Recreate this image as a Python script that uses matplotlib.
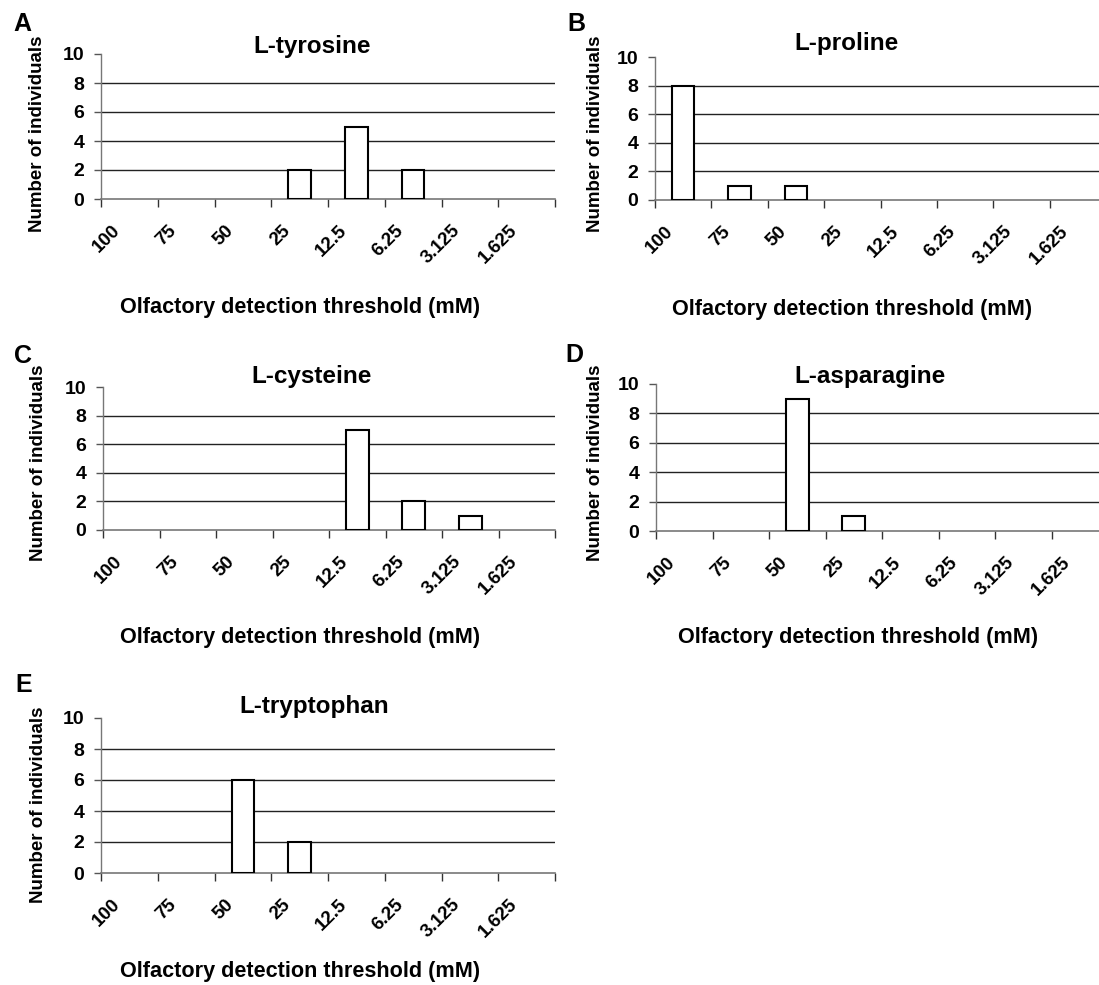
import matplotlib
matplotlib.use("Agg")
import matplotlib.pyplot as plt
import numpy as np
from matplotlib.transforms import offset_copy

plt.rcParams["font.family"] = ["Liberation Sans", "DejaVu Sans"]
plt.rcParams["font.weight"] = "bold"

# categories (olfactory detection threshold, mM)
concentrations = ["100", "75", "50", "25", "12.5", "6.25", "3.125", "1.625"]

# number of individuals per threshold
tyrosine = [0, 0, 0, 2, 5, 2, 0, 0]
proline = [8, 1, 1, 0, 0, 0, 0, 0]
cysteine = [0, 0, 0, 0, 7, 2, 1, 0]
asparagine = [0, 0, 9, 1, 0, 0, 0, 0]
tryptophan = [0, 0, 6, 2, 0, 0, 0, 0]

panel_letters = ["A", "B", "C", "D", "E"]
panel_titles = ["L-tyrosine", "L-proline", "L-cysteine", "L-asparagine", "L-tryptophan"]
panel_counts = [tyrosine, proline, cysteine, asparagine, tryptophan]
yticks = [0, 2, 4, 6, 8, 10]

W, H = 1099, 985

# pixel layout: (left, right, top, bottom) of the plot box
boxes = [(101, 555, 54, 199), (655, 1106, 57, 200),
         (103, 555, 387, 530), (656, 1108, 384, 531),
         (101, 555, 718, 873)]
title_pos = [(312, 53), (846, 50), (312, 383), (870, 383), (314, 713)]
xlabel_pos = [(300, 308), (852, 309), (300, 637), (858, 637), (300, 971)]
ylabel_pos = [(38, 134), (595, 134), (39, 463), (595, 463), (39, 805)]
letter_pos = [(22, 24), (576, 24), (23, 356), (574, 355), (24, 685)]


def fx(x):
    return x / W


def fy(y):
    return 1 - y / H


fig = plt.figure(figsize=(W / 100, H / 100), dpi=100)

for i, counts in enumerate(panel_counts):
    l, r, t, b = boxes[i]
    ax = fig.add_axes([fx(l), fy(b), (r - l) / W, (b - t) / H])
    x = np.arange(len(concentrations)) + 0.5
    counts = np.array(counts)
    filled = counts > 0
    # empty categories draw nothing (no zero-height outline)
    ax.bar(x[filled], counts[filled], width=0.4, color="white",
           edgecolor="black", linewidth=1.5, zorder=3)
    for g in yticks[1:-1]:
        ax.axhline(g, color="#222222", linewidth=1.0, zorder=1)
    ax.set_xlim(0, len(concentrations))
    ax.set_ylim(0, 10)
    ax.set_yticks(yticks)
    ax.set_xticks(np.arange(len(concentrations) + 1))
    ax.set_xticklabels([])
    ax.tick_params(axis="y", direction="out", length=5, width=1,
                   color="#555555", labelsize=14, pad=7)
    ax.tick_params(axis="x", direction="out", length=6, width=1,
                   color="#333333")
    for s in ["top", "right"]:
        ax.spines[s].set_visible(False)
    ax.spines["left"].set_color("#777777")
    ax.spines["bottom"].set_color("#777777")
    ax.spines["left"].set_linewidth(1.0)
    ax.spines["bottom"].set_linewidth(1.2)

    trans = offset_copy(ax.get_xaxis_transform(), fig=fig, x=-12, y=-29,
                        units="dots")
    for xi, lab in zip(x, concentrations):
        ax.text(xi, 0, lab, transform=trans, rotation=45, ha="right",
                va="center", rotation_mode="anchor", fontsize=13.5,
                fontweight="bold")

    fig.text(fx(title_pos[i][0]), fy(title_pos[i][1]), panel_titles[i],
             ha="center", va="baseline", fontsize=17.5, fontweight="bold")
    fig.text(fx(xlabel_pos[i][0]), fy(xlabel_pos[i][1]),
             "Olfactory detection threshold (mM)", ha="center", va="center",
             fontsize=15.6, fontweight="bold")
    fig.text(fx(ylabel_pos[i][0]), fy(ylabel_pos[i][1]),
             "Number of individuals", rotation=90, ha="center", va="center",
             fontsize=13.5, fontweight="bold")
    fig.text(fx(letter_pos[i][0]), fy(letter_pos[i][1]), panel_letters[i],
             ha="center", va="center", fontsize=18, fontweight="bold")

fig.savefig("out.png", dpi=100)
